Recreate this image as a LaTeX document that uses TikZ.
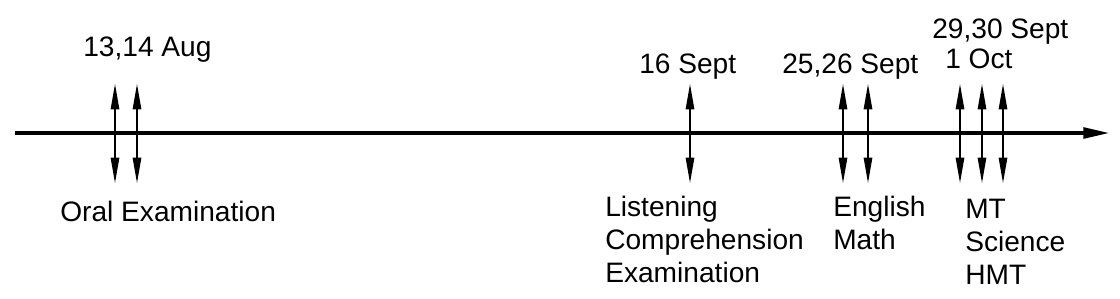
\documentclass[tikz,border=0pt]{standalone}
\usepackage{fontspec}
\setmainfont{Liberation Sans}
\usetikzlibrary{arrows.meta}

\begin{document}
\begin{tikzpicture}[
    x=0.025cm, y=-0.025cm,
    >={Triangle[length=18pt,width=6pt]},
    lbl/.style={anchor=north west, inner sep=0pt, align=left, font=\fontsize{20}{23.3}\selectfont},
    tick/.style={<->, line width=1pt},
    axis/.style={-{Triangle[length=19pt,width=7.5pt]}, line width=2.8pt}
]
    \useasboundingbox (0,0) rectangle (1120,298);

    % time axis
    \coordinate (axs) at (15,133);
    \coordinate (axe) at (1110,133);
    \draw[axis] (axs) -- (axe);

    % dates
    \node[lbl] (aug) at (83,37) {13,14 Aug};
    \node[lbl] (sep16) at (639,54) {16 Sept};
    \node[lbl] (sep25) at (782,54) {25,26 Sept};
    \node[lbl] (sep29) at (932,19) {29,30 Sept};
    \node[lbl] (oct1) at (945,49) {1 Oct};

    % examinations
    \node[lbl] (oral) at (60,201) {Oral Examination};
    \node[lbl] (lce) at (605,196) {Listening\\Comprehension\\Examination};
    \node[lbl] (engm) at (833,196) {English\\Math};
    \node[lbl] (mts) at (965,199) {MT\\Science\\HMT};

    % arrow ends
    \coordinate (t1) at (115,84);  \coordinate (b1) at (115,183);
    \coordinate (t2) at (137,84);  \coordinate (b2) at (137,183);
    \coordinate (t3) at (690,84);  \coordinate (b3) at (690,183);
    \coordinate (t4) at (843,84);  \coordinate (b4) at (843,183);
    \coordinate (t5) at (868,84);  \coordinate (b5) at (868,183);
    \coordinate (t6) at (960,84);  \coordinate (b6) at (960,183);
    \coordinate (t7) at (982,84);  \coordinate (b7) at (982,183);
    \coordinate (t8) at (1003,84); \coordinate (b8) at (1003,183);

    \draw[tick] (t1) -- (b1);
    \draw[tick] (t2) -- (b2);
    \draw[tick] (t3) -- (b3);
    \draw[tick] (t4) -- (b4);
    \draw[tick] (t5) -- (b5);
    \draw[tick] (t6) -- (b6);
    \draw[tick] (t7) -- (b7);
    \draw[tick] (t8) -- (b8);
\end{tikzpicture}
\end{document}
